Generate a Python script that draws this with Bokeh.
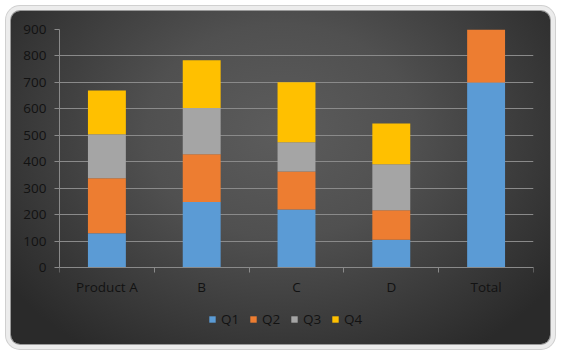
from bokeh.plotting import figure
from bokeh.models import ColumnDataSource, Range1d, FixedTicker, Legend, LegendItem
from bokeh.embed import file_html
from bokeh.resources import INLINE

categories = ["Product A", "B", "C", "D", "Total"]
quarters = ["Q1", "Q2", "Q3", "Q4"]
q1 = [130, 248, 220, 106, 700]
q2 = [208, 181, 144, 111, 200]
q3 = [166, 174, 110, 174, 0]
q4 = [166, 181, 227, 154, 0]
colors = ["#5B9BD5", "#ED7D31", "#A5A5A5", "#FFC000"]
y_ticks = [0, 100, 200, 300, 400, 500, 600, 700, 800, 900]

FONT = "Open Sans"
FSIZE = "13.5px"
TXT = "#121212"
GRID = "#8a8a8a"

x_centers = [i + 0.5 for i in range(len(categories))]
source = ColumnDataSource(dict(x=x_centers, Q1=q1, Q2=q2, Q3=q3, Q4=q4))

# frame extends below zero so the legend can sit under the category axis
p = figure(frame_width=474, frame_height=315,
           x_range=Range1d(0, len(categories)), y_range=Range1d(-290, y_ticks[-1]),
           output_backend="svg", toolbar_location=None,
           min_border_left=48, min_border_right=17, min_border_top=18, min_border_bottom=0,
           margin=(11, 0, 0, 11))
p.background_fill_color = None
p.border_fill_color = None
p.outline_line_color = None
p.styles = {
    "background": "radial-gradient(ellipse 62% 80% at 50% 36%, #5c5c5c 0%, #505050 40%, #3a3a3a 75%, #2a2a2a 100%)",
    "border-radius": "9px",
    "box-shadow": "0 0 0 1px #9a9a9a, 0 0 0 5px #ececec, 0 0 0 6px #d0d0d0",
}

renderers = p.vbar_stack(quarters, x="x", width=0.4, fill_color=colors,
                         line_color=None, source=source)

# axes
p.yaxis.ticker = FixedTicker(ticks=y_ticks)
p.yaxis.bounds = (y_ticks[0], y_ticks[-1])
p.yaxis.axis_line_color = GRID
p.yaxis.major_tick_line_color = GRID
p.yaxis.major_tick_out = 5
p.yaxis.major_tick_in = 0
p.yaxis.minor_tick_line_color = None
p.yaxis.major_label_standoff = 8
p.yaxis.major_label_text_font = FONT
p.yaxis.major_label_text_font_size = FSIZE
p.yaxis.major_label_text_color = TXT

p.xaxis.fixed_location = 0
p.xaxis.ticker = FixedTicker(ticks=x_centers, minor_ticks=list(range(len(categories) + 1)))
p.xaxis.major_label_overrides = {xc: c for xc, c in zip(x_centers, categories)}
p.xaxis.axis_line_color = GRID
p.xaxis.major_tick_line_color = None
p.xaxis.major_tick_out = 0
p.xaxis.major_tick_in = 0
p.xaxis.minor_tick_line_color = GRID
p.xaxis.minor_tick_out = 5
p.xaxis.minor_tick_in = 0
p.xaxis.major_label_standoff = 5
p.xaxis.major_label_text_font = FONT
p.xaxis.major_label_text_font_size = FSIZE
p.xaxis.major_label_text_color = TXT

p.xgrid.visible = False
p.ygrid.ticker = FixedTicker(ticks=y_ticks)
p.ygrid.grid_line_color = GRID
p.ygrid.grid_line_width = 1

legend = Legend(
    items=[LegendItem(label=q, renderers=[r]) for q, r in zip(quarters, renderers)],
    location=(149, 16), orientation="horizontal",
    glyph_width=8, glyph_height=8, label_standoff=5, spacing=8,
    padding=0, margin=0, border_line_color=None, background_fill_alpha=0,
    label_text_font=FONT, label_text_font_size=FSIZE, label_text_color=TXT,
)
p.add_layout(legend)

open("out.html", "w").write(file_html(p, INLINE))
